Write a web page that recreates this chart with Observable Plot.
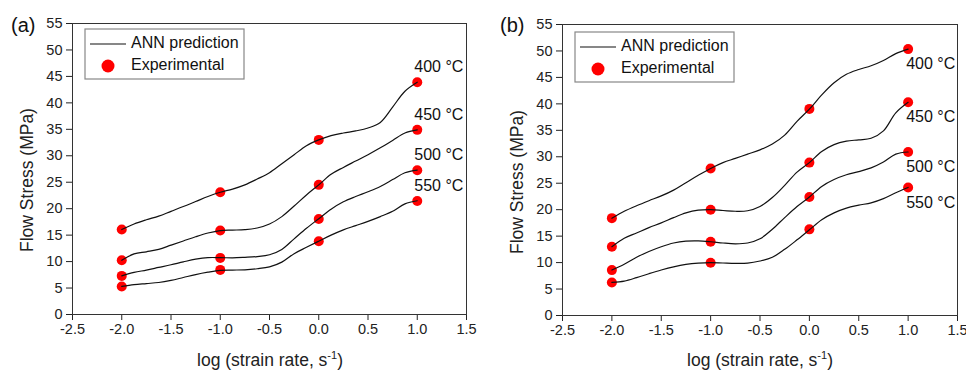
<!DOCTYPE html>
<html>
<head>
<meta charset="utf-8">
<script src="https://cdn.jsdelivr.net/npm/d3@7"></script>
<script src="https://cdn.jsdelivr.net/npm/@observablehq/plot@0.6"></script>
<style>
  body { margin: 0; background: #fff; }
  #wrap { display: flex; width: 966px; height: 372px; }
  #wrap > div { width: 483px; height: 372px; }
  svg { font-family: "Liberation Sans", Arial, sans-serif; }
</style>
</head>
<body>
<div id="wrap"><div id="pa"></div><div id="pb"></div></div>
<script>
// ---- data ----
const temps = ["400 °C", "450 °C", "500 °C", "550 °C"];
const expX = [-2, -1, 0, 1];
const xTicks = [-2.5, -2.0, -1.5, -1.0, -0.5, 0.0, 0.5, 1.0, 1.5];
const yTicks = [0, 5, 10, 15, 20, 25, 30, 35, 40, 45, 50, 55];
const annX = [-2, -1.875, -1.75, -1.625, -1.5, -1.375, -1.25, -1.125, -1, -0.875, -0.75, -0.625, -0.5, -0.375, -0.25, -0.125, 0, 0.125, 0.25, 0.375, 0.5, 0.625, 0.75, 0.875, 1];

// panel (a) experimental
const expA400 = [16.05, 23.1, 33.0, 43.9];
const expA450 = [10.26, 15.86, 24.5, 34.9];
const expA500 = [7.3, 10.7, 18.06, 27.25];
const expA550 = [5.29, 8.43, 13.85, 21.46];
// panel (a) ANN prediction
const annA400 = [16.05, 17.1, 17.9, 18.6, 19.5, 20.4, 21.35, 22.3, 23.1, 23.7, 24.5, 25.6, 26.8, 28.5, 30.2, 31.9, 33.0, 33.8, 34.3, 34.7, 35.25, 36.3, 39.2, 42.2, 43.9];
const annA450 = [10.26, 11.45, 11.85, 12.3, 13.1, 13.9, 14.7, 15.4, 15.86, 15.95, 16.05, 16.35, 17.1, 18.5, 20.5, 22.6, 24.5, 26.5, 27.8, 29.0, 30.2, 31.5, 32.9, 34.3, 34.9];
const annA500 = [7.3, 7.95, 8.4, 8.9, 9.4, 9.95, 10.45, 10.75, 10.75, 10.7, 10.8, 10.95, 11.3, 12.3, 14.3, 16.3, 18.1, 19.9, 21.3, 22.3, 23.2, 24.2, 25.5, 26.8, 27.3];
const annA550 = [5.3, 5.65, 5.85, 6.05, 6.45, 7.0, 7.55, 8.0, 8.35, 8.4, 8.45, 8.65, 9.0, 9.9, 11.5, 12.7, 13.86, 15.0, 16.0, 16.8, 17.6, 18.5, 19.5, 20.9, 21.5];

// panel (b) experimental
const expB400 = [18.4, 27.8, 39.05, 50.35];
const expB450 = [13.0, 20.0, 28.9, 40.3];
const expB500 = [8.58, 13.94, 22.4, 30.9];
const expB550 = [6.25, 9.97, 16.28, 24.2];
// panel (b) ANN prediction
const annB400 = [18.4, 19.7, 20.75, 21.7, 22.6, 23.7, 25.1, 26.5, 27.8, 28.9, 29.7, 30.5, 31.3, 32.4, 34.1, 36.7, 39.0, 41.7, 44.0, 45.6, 46.5, 47.2, 48.2, 49.5, 50.35];
const annB450 = [13.0, 14.6, 15.6, 16.6, 17.5, 18.5, 19.4, 19.9, 20.0, 19.85, 19.7, 19.8, 20.6, 22.3, 24.6, 27.1, 28.9, 31.0, 32.3, 32.95, 33.2, 33.5, 34.9, 38.3, 40.3];
const annB500 = [8.6, 9.7, 11.0, 12.1, 13.0, 13.7, 14.05, 14.1, 13.94, 13.7, 13.55, 13.7, 14.5, 16.3, 18.5, 20.6, 22.4, 24.4, 25.7, 26.6, 27.2, 27.9, 29.0, 30.5, 30.9];
const annB550 = [6.25, 6.5, 7.15, 7.9, 8.6, 9.2, 9.65, 9.9, 10.0, 9.92, 9.85, 9.9, 10.3, 11.0, 12.5, 14.3, 16.2, 18.1, 19.4, 20.3, 20.85, 21.3, 22.1, 23.2, 24.2];

const legendLine = "ANN prediction";
const legendDot = "Experimental";
const yLabel = "Flow Stress (MPa)";

// ---- build ----
function rows(xs, seriesList) {
  const out = [];
  seriesList.forEach((ys, i) => ys.forEach((v, j) => out.push({x: xs[j], y: v, t: temps[i]})));
  return out;
}

function panel(el, o) {
  const exp = rows(expX, o.exp);
  const ann = rows(annX, o.ann);
  const lab = o.exp.map((ys, i) => ({x: expX[expX.length - 1], y: ys[ys.length - 1], t: temps[i]}));
  const fmt = d => d.toFixed(1);
  const svg = Plot.plot({
    width: 483, height: 372,
    marginLeft: o.ml, marginRight: o.mr, marginTop: o.mt, marginBottom: o.mb,
    style: {fontFamily: '"Liberation Sans", Arial, sans-serif', fontSize: "14.5px", color: "#222", background: "#fff", overflow: "visible"},
    x: {domain: [-2.5, 1.5]},
    y: {domain: [0, 55]},
    marks: [
      Plot.axisX({ticks: xTicks, tickFormat: fmt, tickSize: 6, tickPadding: 3, label: null, fontSize: 14.5}),
      Plot.axisY({ticks: yTicks, tickSize: 6, tickPadding: 4, label: null, fontSize: 14.5}),
      Plot.frame({stroke: "#333", strokeWidth: 1}),
      Plot.dot(exp, {x: "x", y: "y", r: 5, fill: "#ff0000", stroke: "none"}),
      Plot.line(ann, {x: "x", y: "y", z: "t", curve: "catmull-rom", stroke: "#111", strokeWidth: 1.2}),
      Plot.text(lab, {x: "x", y: "y", text: "t", textAnchor: "start", dx: o.ldx, dy: o.ldy, fontSize: 16, fill: "#111"})
    ]
  });
  const s = d3.select(svg);
  // panel tag
  s.append("text").attr("x", o.tagX).attr("y", 32).attr("text-anchor", "start")
    .attr("font-size", 20).attr("fill", "#111").text(o.tag);
  // y label
  s.append("text").attr("transform", `translate(${o.ylx},${o.yly}) rotate(-90)`)
    .attr("text-anchor", "middle").attr("dominant-baseline", "middle")
    .attr("font-size", 17.5).attr("fill", "#222").text(yLabel);
  // x label with superscript
  const xl = s.append("text").attr("x", o.xlx).attr("y", 366).attr("text-anchor", "middle")
    .attr("font-size", 17.5).attr("fill", "#222");
  xl.append("tspan").text("log (strain rate, s");
  xl.append("tspan").attr("font-size", 11).attr("dy", -7).text("-1");
  xl.append("tspan").attr("dy", 7).text(")");
  // legend
  const L = o.leg;
  s.append("rect").attr("x", L.x).attr("y", L.y).attr("width", 159).attr("height", 50)
    .attr("fill", "#fff").attr("stroke", "#888").attr("stroke-width", 1.2);
  s.append("line").attr("x1", L.x + 5).attr("x2", L.x + 41).attr("y1", L.y + 15).attr("y2", L.y + 15)
    .attr("stroke", "#111").attr("stroke-width", 1.2);
  s.append("circle").attr("cx", L.x + 23).attr("cy", L.y + 37).attr("r", 6.5).attr("fill", "#ff0000");
  s.append("text").attr("x", L.x + 46).attr("y", L.y + 15).attr("text-anchor", "start").attr("dominant-baseline", "middle")
    .attr("font-size", 16).attr("fill", "#111").text(legendLine);
  s.append("text").attr("x", L.x + 46).attr("y", L.y + 37).attr("text-anchor", "start").attr("dominant-baseline", "middle")
    .attr("font-size", 16).attr("fill", "#111").text(legendDot);
  el.appendChild(svg);
}

panel(document.getElementById("pa"), {
  ml: 72, mr: 17, mt: 23, mb: 58,
  exp: [expA400, expA450, expA500, expA550],
  ann: [annA400, annA450, annA500, annA550],
  ldx: -3, ldy: -15, tag: "(a)", tagX: 11, ylx: 28, yly: 180, xlx: 270,
  leg: {x: 85, y: 29}
});
panel(document.getElementById("pb"), {
  ml: 79, mr: 9, mt: 24, mb: 57,
  exp: [expB400, expB450, expB500, expB550],
  ann: [annB400, annB450, annB500, annB550],
  ldx: -2, ldy: 15, tag: "(b)", tagX: 17, ylx: 35, yly: 182, xlx: 277,
  leg: {x: 92, y: 32}
});
</script>
</body>
</html>
